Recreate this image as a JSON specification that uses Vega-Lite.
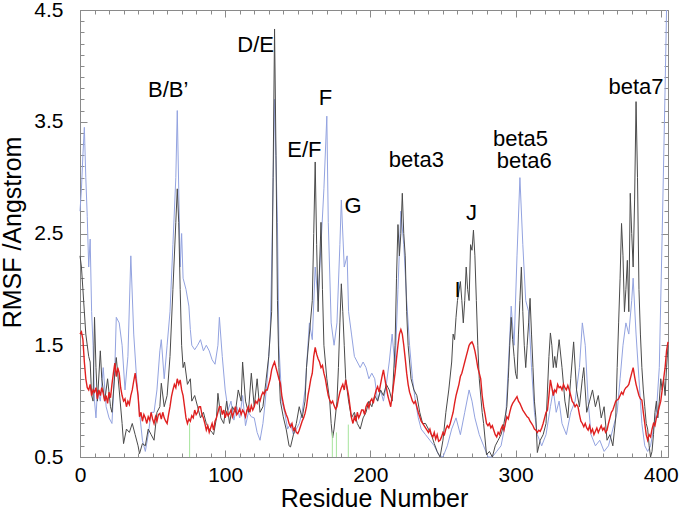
{
"$schema":"https://vega.github.io/schema/vega-lite/v6.json",
"width":588,"height":447,
"autosize":{"type":"none"},
"padding":{"left":80,"top":10,"right":12,"bottom":56},
"background":"white",
"config":{"view":{"stroke":"#8a8a8a","strokeWidth":1},"font":"Liberation Sans",
"axis":{"grid":false,"domain":false,"tickColor":"#8a8a8a","tickWidth":1,"labelFont":"Liberation Sans","labelFontSize":21,"labelColor":"#000","titleFont":"Liberation Sans","titleFontSize":25,"titleFontWeight":"normal","titleColor":"#000","labelFlush":false,"labelOverlap":false,"labelBound":false}},
"datasets":{
"blue":[{"r":0,"v":2.7},{"r":1,"v":2.9},{"r":2,"v":3.2},{"r":3,"v":3.45},{"r":4,"v":3.0},{"r":5,"v":2.65},{"r":6,"v":2.2},{"r":7,"v":2.45},{"r":8,"v":1.8},{"r":9,"v":1.5},{"r":10,"v":1.0},{"r":11,"v":0.85},{"r":12,"v":1.1},{"r":14,"v":1.0},{"r":16,"v":1.3},{"r":18,"v":0.95},{"r":20,"v":0.85},{"r":22,"v":0.8},{"r":24,"v":1.3},{"r":25,"v":1.75},{"r":27,"v":1.7},{"r":29,"v":1.5},{"r":31,"v":1.1},{"r":33,"v":1.4},{"r":35,"v":2.3},{"r":37,"v":1.6},{"r":39,"v":1.2},{"r":41,"v":0.9},{"r":43,"v":0.65},{"r":45,"v":0.55},{"r":47,"v":0.7},{"r":49,"v":0.9},{"r":51,"v":0.9},{"r":53,"v":1.1},{"r":55,"v":1.45},{"r":56,"v":1.55},{"r":58,"v":1.2},{"r":60,"v":1.5},{"r":62,"v":1.8},{"r":64,"v":2.4},{"r":66,"v":3.0},{"r":67,"v":3.6},{"r":68,"v":2.9},{"r":69,"v":2.2},{"r":70,"v":2.5},{"r":71,"v":2.1},{"r":73,"v":2.0},{"r":75,"v":1.85},{"r":76,"v":1.64},{"r":77,"v":1.5},{"r":79,"v":1.46},{"r":81,"v":1.5},{"r":83,"v":1.55},{"r":85,"v":1.45},{"r":87,"v":1.5},{"r":89,"v":1.45},{"r":91,"v":1.37},{"r":93,"v":1.33},{"r":95,"v":1.5},{"r":96,"v":1.75},{"r":98,"v":1.4},{"r":100,"v":1.1},{"r":102,"v":0.92},{"r":104,"v":1.0},{"r":106,"v":0.83},{"r":108,"v":0.95},{"r":110,"v":0.85},{"r":112,"v":1.05},{"r":114,"v":0.78},{"r":116,"v":0.9},{"r":118,"v":0.86},{"r":120,"v":0.85},{"r":122,"v":0.72},{"r":124,"v":0.65},{"r":126,"v":0.8},{"r":127,"v":0.92},{"r":129,"v":1.2},{"r":131,"v":1.6},{"r":132,"v":2.2},{"r":134,"v":3.7},{"r":136,"v":2.6},{"r":137,"v":1.5},{"r":139,"v":1.0},{"r":141,"v":0.9},{"r":143,"v":0.75},{"r":145,"v":0.8},{"r":147,"v":0.7},{"r":149,"v":0.75},{"r":151,"v":0.8},{"r":153,"v":0.9},{"r":155,"v":1.1},{"r":157,"v":1.5},{"r":158,"v":1.7},{"r":160,"v":1.55},{"r":162,"v":2.2},{"r":164,"v":1.9},{"r":166,"v":2.4},{"r":168,"v":2.9},{"r":170,"v":3.55},{"r":171,"v":2.6},{"r":173,"v":1.7},{"r":175,"v":1.5},{"r":177,"v":1.7},{"r":179,"v":2.4},{"r":180,"v":2.8},{"r":182,"v":2.2},{"r":184,"v":2.3},{"r":185,"v":1.8},{"r":187,"v":1.6},{"r":189,"v":1.4},{"r":191,"v":1.35},{"r":193,"v":1.3},{"r":195,"v":1.35},{"r":197,"v":1.3},{"r":199,"v":1.2},{"r":201,"v":1.25},{"r":203,"v":1.2},{"r":205,"v":1.0},{"r":207,"v":1.1},{"r":209,"v":1.0},{"r":211,"v":1.15},{"r":213,"v":1.35},{"r":215,"v":1.6},{"r":217,"v":1.3},{"r":219,"v":2.0},{"r":221,"v":2.7},{"r":223,"v":2.4},{"r":225,"v":1.9},{"r":227,"v":1.5},{"r":229,"v":1.2},{"r":231,"v":1.0},{"r":233,"v":0.85},{"r":235,"v":0.75},{"r":238,"v":0.7},{"r":241,"v":0.65},{"r":244,"v":0.6},{"r":247,"v":0.52},{"r":250,"v":0.5},{"r":253,"v":0.6},{"r":256,"v":0.75},{"r":259,"v":0.85},{"r":262,"v":0.7},{"r":265,"v":0.9},{"r":268,"v":1.1},{"r":270,"v":1.0},{"r":272,"v":0.85},{"r":275,"v":0.7},{"r":278,"v":0.6},{"r":281,"v":0.5},{"r":284,"v":0.5},{"r":287,"v":0.55},{"r":290,"v":0.6},{"r":293,"v":0.8},{"r":295,"v":1.3},{"r":297,"v":1.85},{"r":299,"v":1.5},{"r":301,"v":2.3},{"r":303,"v":3.0},{"r":305,"v":2.4},{"r":307,"v":1.9},{"r":309,"v":1.8},{"r":311,"v":1.3},{"r":313,"v":0.9},{"r":315,"v":0.7},{"r":318,"v":0.6},{"r":321,"v":0.7},{"r":324,"v":0.95},{"r":326,"v":1.1},{"r":328,"v":0.9},{"r":330,"v":1.0},{"r":332,"v":0.8},{"r":335,"v":0.7},{"r":338,"v":0.9},{"r":341,"v":1.0},{"r":344,"v":1.3},{"r":346,"v":1.7},{"r":348,"v":1.5},{"r":350,"v":1.0},{"r":352,"v":0.7},{"r":355,"v":0.6},{"r":358,"v":0.65},{"r":361,"v":0.55},{"r":364,"v":0.6},{"r":367,"v":0.75},{"r":370,"v":0.9},{"r":372,"v":1.2},{"r":374,"v":1.5},{"r":376,"v":1.7},{"r":378,"v":1.6},{"r":380,"v":1.9},{"r":381,"v":2.1},{"r":383,"v":1.6},{"r":385,"v":1.2},{"r":387,"v":0.8},{"r":389,"v":0.6},{"r":391,"v":0.55},{"r":393,"v":0.6},{"r":395,"v":0.75},{"r":397,"v":0.9},{"r":399,"v":1.3},{"r":401,"v":2.5},{"r":403,"v":3.8},{"r":404,"v":4.5}],
"black":[{"r":0,"v":2.3},{"r":1,"v":2.2},{"r":2,"v":2.0},{"r":4,"v":1.6},{"r":6,"v":1.4},{"r":7,"v":1.35},{"r":8,"v":1.05},{"r":9,"v":1.0},{"r":10,"v":1.75},{"r":11,"v":1.3},{"r":12,"v":1.0},{"r":14,"v":1.45},{"r":15,"v":1.2},{"r":17,"v":1.0},{"r":19,"v":1.2},{"r":21,"v":0.95},{"r":22,"v":0.9},{"r":24,"v":1.25},{"r":25,"v":1.39},{"r":27,"v":1.1},{"r":29,"v":0.8},{"r":30,"v":0.62},{"r":32,"v":0.75},{"r":34,"v":0.72},{"r":36,"v":0.8},{"r":38,"v":0.7},{"r":40,"v":0.6},{"r":41,"v":0.53},{"r":43,"v":0.62},{"r":45,"v":0.6},{"r":47,"v":0.75},{"r":49,"v":0.7},{"r":51,"v":0.65},{"r":53,"v":0.9},{"r":55,"v":0.95},{"r":56,"v":1.16},{"r":58,"v":0.95},{"r":60,"v":1.05},{"r":62,"v":1.4},{"r":64,"v":2.0},{"r":66,"v":2.6},{"r":67,"v":2.9},{"r":68,"v":2.6},{"r":69,"v":2.0},{"r":70,"v":1.5},{"r":71,"v":1.3},{"r":72,"v":1.35},{"r":74,"v":1.15},{"r":76,"v":1.2},{"r":77,"v":1.0},{"r":79,"v":1.05},{"r":81,"v":0.95},{"r":83,"v":0.85},{"r":85,"v":0.9},{"r":87,"v":0.8},{"r":89,"v":0.75},{"r":91,"v":0.72},{"r":92,"v":0.7},{"r":94,"v":0.85},{"r":95,"v":1.07},{"r":97,"v":0.85},{"r":99,"v":0.8},{"r":101,"v":1.0},{"r":103,"v":0.8},{"r":105,"v":0.95},{"r":107,"v":0.9},{"r":109,"v":1.1},{"r":111,"v":1.0},{"r":112,"v":1.35},{"r":114,"v":1.0},{"r":116,"v":0.9},{"r":118,"v":1.25},{"r":120,"v":0.95},{"r":122,"v":1.2},{"r":124,"v":0.9},{"r":126,"v":0.95},{"r":128,"v":1.17},{"r":130,"v":1.4},{"r":132,"v":1.8},{"r":133,"v":3.0},{"r":134,"v":4.33},{"r":135,"v":3.2},{"r":136,"v":1.9},{"r":137,"v":1.3},{"r":138,"v":1.0},{"r":140,"v":0.86},{"r":142,"v":0.75},{"r":144,"v":0.6},{"r":145,"v":0.59},{"r":147,"v":0.7},{"r":149,"v":0.8},{"r":151,"v":0.95},{"r":153,"v":0.85},{"r":155,"v":1.0},{"r":156,"v":1.3},{"r":158,"v":1.6},{"r":160,"v":1.9},{"r":161,"v":2.5},{"r":162,"v":3.14},{"r":163,"v":2.4},{"r":164,"v":1.8},{"r":165,"v":2.2},{"r":166,"v":2.6},{"r":167,"v":2.0},{"r":168,"v":1.5},{"r":170,"v":1.2},{"r":172,"v":1.0},{"r":173,"v":0.8},{"r":174,"v":0.67},{"r":175,"v":0.75},{"r":177,"v":1.0},{"r":178,"v":1.3},{"r":179,"v":1.7},{"r":180,"v":2.05},{"r":181,"v":1.8},{"r":182,"v":1.5},{"r":183,"v":1.2},{"r":185,"v":1.0},{"r":187,"v":0.85},{"r":189,"v":0.9},{"r":191,"v":0.8},{"r":193,"v":0.75},{"r":195,"v":0.85},{"r":197,"v":0.9},{"r":199,"v":1.0},{"r":201,"v":0.95},{"r":203,"v":1.05},{"r":205,"v":1.0},{"r":207,"v":1.1},{"r":209,"v":1.05},{"r":211,"v":1.15},{"r":213,"v":1.1},{"r":215,"v":1.0},{"r":217,"v":1.5},{"r":218,"v":2.1},{"r":219,"v":2.58},{"r":220,"v":2.3},{"r":221,"v":2.5},{"r":222,"v":2.86},{"r":223,"v":2.5},{"r":224,"v":2.3},{"r":225,"v":1.8},{"r":226,"v":1.5},{"r":228,"v":1.2},{"r":230,"v":1.1},{"r":232,"v":1.05},{"r":234,"v":0.9},{"r":236,"v":0.8},{"r":238,"v":0.8},{"r":240,"v":0.75},{"r":242,"v":0.7},{"r":244,"v":0.62},{"r":246,"v":0.55},{"r":248,"v":0.5},{"r":250,"v":0.65},{"r":252,"v":0.9},{"r":254,"v":1.1},{"r":256,"v":1.35},{"r":257,"v":1.6},{"r":258,"v":1.55},{"r":259,"v":1.75},{"r":260,"v":1.9},{"r":262,"v":2.07},{"r":263,"v":1.9},{"r":264,"v":1.7},{"r":265,"v":1.9},{"r":266,"v":2.2},{"r":267,"v":2.0},{"r":268,"v":1.9},{"r":269,"v":2.4},{"r":270,"v":2.35},{"r":271,"v":2.53},{"r":272,"v":2.3},{"r":273,"v":1.9},{"r":274,"v":1.5},{"r":275,"v":1.2},{"r":277,"v":0.9},{"r":278,"v":0.8},{"r":280,"v":0.52},{"r":282,"v":0.55},{"r":284,"v":0.5},{"r":286,"v":0.6},{"r":288,"v":0.65},{"r":290,"v":0.7},{"r":292,"v":0.8},{"r":294,"v":0.95},{"r":295,"v":1.2},{"r":296,"v":1.5},{"r":297,"v":1.75},{"r":298,"v":1.55},{"r":299,"v":1.4},{"r":300,"v":1.25},{"r":301,"v":1.2},{"r":302,"v":1.6},{"r":303,"v":1.9},{"r":304,"v":2.2},{"r":305,"v":1.8},{"r":306,"v":1.5},{"r":307,"v":1.3},{"r":308,"v":1.5},{"r":309,"v":1.7},{"r":310,"v":1.92},{"r":311,"v":1.6},{"r":312,"v":1.3},{"r":313,"v":1.0},{"r":314,"v":0.85},{"r":315,"v":0.54},{"r":317,"v":0.65},{"r":319,"v":0.7},{"r":321,"v":0.8},{"r":322,"v":1.1},{"r":323,"v":1.4},{"r":324,"v":1.61},{"r":325,"v":1.5},{"r":326,"v":1.3},{"r":327,"v":1.4},{"r":328,"v":1.3},{"r":330,"v":1.55},{"r":332,"v":1.3},{"r":334,"v":1.0},{"r":336,"v":0.85},{"r":338,"v":1.2},{"r":340,"v":1.53},{"r":342,"v":1.1},{"r":344,"v":0.95},{"r":346,"v":1.2},{"r":347,"v":1.3},{"r":349,"v":0.9},{"r":351,"v":1.0},{"r":353,"v":1.1},{"r":355,"v":0.95},{"r":357,"v":1.05},{"r":359,"v":0.85},{"r":361,"v":0.95},{"r":363,"v":0.65},{"r":365,"v":0.7},{"r":367,"v":0.6},{"r":369,"v":0.85},{"r":370,"v":1.3},{"r":371,"v":1.7},{"r":372,"v":2.1},{"r":373,"v":2.59},{"r":374,"v":2.3},{"r":375,"v":1.8},{"r":376,"v":2.0},{"r":377,"v":2.26},{"r":378,"v":1.8},{"r":379,"v":2.86},{"r":380,"v":2.5},{"r":381,"v":2.2},{"r":382,"v":2.8},{"r":383,"v":3.68},{"r":384,"v":3.0},{"r":385,"v":2.0},{"r":386,"v":1.6},{"r":387,"v":1.3},{"r":388,"v":1.1},{"r":389,"v":0.95},{"r":390,"v":0.8},{"r":391,"v":0.75},{"r":392,"v":0.6},{"r":393,"v":0.5},{"r":394,"v":0.55},{"r":395,"v":0.7},{"r":396,"v":0.9},{"r":397,"v":1.0},{"r":398,"v":0.85},{"r":399,"v":1.0},{"r":400,"v":1.2},{"r":401,"v":1.1},{"r":402,"v":1.2},{"r":403,"v":1.05},{"r":404,"v":1.3},{"r":405,"v":1.5}],
"red":[{"r":0,"v":1.6},{"r":1,"v":1.62},{"r":2,"v":1.55},{"r":3,"v":1.35},{"r":4,"v":1.2},{"r":5,"v":1.12},{"r":6,"v":1.1},{"r":7,"v":1.15},{"r":8,"v":1.05},{"r":9,"v":1.1},{"r":10,"v":1.08},{"r":11,"v":1.12},{"r":12,"v":1.02},{"r":13,"v":1.1},{"r":14,"v":1.05},{"r":15,"v":1.12},{"r":16,"v":1.07},{"r":17,"v":1.0},{"r":18,"v":1.05},{"r":19,"v":0.98},{"r":20,"v":1.08},{"r":21,"v":1.03},{"r":22,"v":1.15},{"r":23,"v":1.25},{"r":24,"v":1.34},{"r":25,"v":1.22},{"r":26,"v":1.3},{"r":27,"v":1.25},{"r":28,"v":1.12},{"r":29,"v":1.05},{"r":30,"v":1.0},{"r":31,"v":1.02},{"r":32,"v":0.95},{"r":33,"v":1.0},{"r":34,"v":0.97},{"r":35,"v":1.05},{"r":36,"v":1.1},{"r":37,"v":1.18},{"r":38,"v":1.25},{"r":39,"v":1.15},{"r":40,"v":1.05},{"r":41,"v":0.86},{"r":42,"v":0.9},{"r":43,"v":0.82},{"r":44,"v":0.88},{"r":45,"v":0.85},{"r":46,"v":0.8},{"r":47,"v":0.86},{"r":48,"v":0.83},{"r":49,"v":0.9},{"r":50,"v":0.84},{"r":51,"v":0.8},{"r":52,"v":0.86},{"r":53,"v":0.82},{"r":54,"v":0.88},{"r":55,"v":0.89},{"r":56,"v":0.84},{"r":57,"v":0.9},{"r":58,"v":0.85},{"r":59,"v":0.82},{"r":60,"v":0.8},{"r":61,"v":0.88},{"r":62,"v":0.95},{"r":63,"v":1.04},{"r":64,"v":1.1},{"r":65,"v":1.15},{"r":66,"v":1.12},{"r":67,"v":1.2},{"r":68,"v":1.15},{"r":69,"v":1.19},{"r":70,"v":1.1},{"r":71,"v":1.05},{"r":72,"v":0.95},{"r":73,"v":0.85},{"r":74,"v":0.8},{"r":75,"v":0.84},{"r":76,"v":0.82},{"r":77,"v":0.87},{"r":78,"v":0.85},{"r":79,"v":0.92},{"r":80,"v":0.88},{"r":81,"v":0.9},{"r":82,"v":0.95},{"r":83,"v":0.95},{"r":84,"v":0.88},{"r":85,"v":0.85},{"r":86,"v":0.8},{"r":87,"v":0.74},{"r":88,"v":0.78},{"r":89,"v":0.72},{"r":90,"v":0.76},{"r":91,"v":0.8},{"r":92,"v":0.74},{"r":93,"v":0.82},{"r":94,"v":0.85},{"r":95,"v":0.9},{"r":96,"v":0.95},{"r":97,"v":0.95},{"r":98,"v":0.88},{"r":99,"v":0.92},{"r":100,"v":0.85},{"r":101,"v":0.9},{"r":102,"v":0.87},{"r":103,"v":0.89},{"r":104,"v":0.92},{"r":105,"v":0.86},{"r":106,"v":0.9},{"r":107,"v":0.95},{"r":108,"v":0.88},{"r":109,"v":0.9},{"r":110,"v":0.93},{"r":111,"v":0.88},{"r":112,"v":0.92},{"r":113,"v":0.9},{"r":114,"v":0.86},{"r":115,"v":0.92},{"r":116,"v":0.95},{"r":117,"v":0.9},{"r":118,"v":0.96},{"r":119,"v":0.92},{"r":120,"v":0.95},{"r":121,"v":1.0},{"r":122,"v":0.98},{"r":123,"v":1.02},{"r":124,"v":1.0},{"r":125,"v":1.05},{"r":126,"v":1.08},{"r":127,"v":1.06},{"r":128,"v":1.1},{"r":129,"v":1.1},{"r":130,"v":1.15},{"r":131,"v":1.2},{"r":132,"v":1.28},{"r":133,"v":1.32},{"r":134,"v":1.35},{"r":135,"v":1.3},{"r":136,"v":1.25},{"r":137,"v":1.2},{"r":138,"v":1.16},{"r":139,"v":1.05},{"r":140,"v":0.98},{"r":141,"v":0.92},{"r":142,"v":0.88},{"r":143,"v":0.85},{"r":144,"v":0.8},{"r":145,"v":0.77},{"r":146,"v":0.8},{"r":147,"v":0.74},{"r":148,"v":0.76},{"r":149,"v":0.72},{"r":150,"v":0.71},{"r":151,"v":0.74},{"r":152,"v":0.78},{"r":153,"v":0.82},{"r":154,"v":0.85},{"r":155,"v":0.89},{"r":156,"v":0.95},{"r":157,"v":1.05},{"r":158,"v":1.12},{"r":159,"v":1.2},{"r":160,"v":1.25},{"r":161,"v":1.4},{"r":162,"v":1.48},{"r":163,"v":1.42},{"r":164,"v":1.38},{"r":165,"v":1.35},{"r":166,"v":1.3},{"r":167,"v":1.32},{"r":168,"v":1.25},{"r":169,"v":1.2},{"r":170,"v":1.12},{"r":171,"v":1.05},{"r":172,"v":1.01},{"r":173,"v":0.98},{"r":174,"v":1.0},{"r":175,"v":0.96},{"r":176,"v":0.93},{"r":177,"v":0.95},{"r":178,"v":1.02},{"r":179,"v":1.08},{"r":180,"v":1.12},{"r":181,"v":1.15},{"r":182,"v":1.1},{"r":183,"v":1.19},{"r":184,"v":1.12},{"r":185,"v":1.05},{"r":186,"v":0.95},{"r":187,"v":0.85},{"r":188,"v":0.8},{"r":189,"v":0.86},{"r":190,"v":0.82},{"r":191,"v":0.9},{"r":192,"v":0.85},{"r":193,"v":0.88},{"r":194,"v":0.92},{"r":195,"v":0.92},{"r":196,"v":0.88},{"r":197,"v":0.95},{"r":198,"v":0.98},{"r":199,"v":0.94},{"r":200,"v":1.0},{"r":201,"v":1.02},{"r":202,"v":0.98},{"r":203,"v":1.05},{"r":204,"v":1.1},{"r":205,"v":1.13},{"r":206,"v":1.08},{"r":207,"v":1.15},{"r":208,"v":1.22},{"r":209,"v":1.28},{"r":210,"v":1.2},{"r":211,"v":1.12},{"r":212,"v":1.05},{"r":213,"v":1.0},{"r":214,"v":0.95},{"r":215,"v":1.05},{"r":216,"v":1.15},{"r":217,"v":1.25},{"r":218,"v":1.38},{"r":219,"v":1.5},{"r":220,"v":1.6},{"r":221,"v":1.64},{"r":222,"v":1.6},{"r":223,"v":1.5},{"r":224,"v":1.38},{"r":225,"v":1.25},{"r":226,"v":1.15},{"r":227,"v":1.08},{"r":228,"v":1.04},{"r":229,"v":1.0},{"r":230,"v":0.98},{"r":231,"v":1.0},{"r":232,"v":0.95},{"r":233,"v":0.9},{"r":234,"v":0.86},{"r":235,"v":0.82},{"r":236,"v":0.8},{"r":237,"v":0.78},{"r":238,"v":0.76},{"r":239,"v":0.74},{"r":240,"v":0.72},{"r":241,"v":0.75},{"r":242,"v":0.7},{"r":243,"v":0.68},{"r":244,"v":0.72},{"r":245,"v":0.66},{"r":246,"v":0.7},{"r":247,"v":0.64},{"r":248,"v":0.65},{"r":249,"v":0.68},{"r":250,"v":0.72},{"r":251,"v":0.7},{"r":252,"v":0.75},{"r":253,"v":0.78},{"r":254,"v":0.76},{"r":255,"v":0.8},{"r":256,"v":0.85},{"r":257,"v":0.9},{"r":258,"v":0.98},{"r":259,"v":1.05},{"r":260,"v":1.1},{"r":261,"v":1.15},{"r":262,"v":1.22},{"r":263,"v":1.25},{"r":264,"v":1.3},{"r":265,"v":1.35},{"r":266,"v":1.4},{"r":267,"v":1.45},{"r":268,"v":1.5},{"r":269,"v":1.52},{"r":270,"v":1.53},{"r":271,"v":1.5},{"r":272,"v":1.45},{"r":273,"v":1.38},{"r":274,"v":1.3},{"r":275,"v":1.25},{"r":276,"v":1.2},{"r":277,"v":1.05},{"r":278,"v":0.95},{"r":279,"v":0.88},{"r":280,"v":0.8},{"r":281,"v":0.78},{"r":282,"v":0.8},{"r":283,"v":0.76},{"r":284,"v":0.78},{"r":285,"v":0.74},{"r":286,"v":0.7},{"r":287,"v":0.68},{"r":288,"v":0.72},{"r":289,"v":0.7},{"r":290,"v":0.75},{"r":291,"v":0.78},{"r":292,"v":0.74},{"r":293,"v":0.8},{"r":294,"v":0.86},{"r":295,"v":0.84},{"r":296,"v":0.9},{"r":297,"v":0.95},{"r":298,"v":0.98},{"r":299,"v":1.0},{"r":300,"v":1.02},{"r":301,"v":1.04},{"r":302,"v":1.0},{"r":303,"v":0.98},{"r":304,"v":0.95},{"r":305,"v":0.92},{"r":306,"v":0.9},{"r":307,"v":0.88},{"r":308,"v":0.86},{"r":309,"v":0.85},{"r":310,"v":0.82},{"r":311,"v":0.8},{"r":312,"v":0.78},{"r":313,"v":0.75},{"r":314,"v":0.74},{"r":315,"v":0.72},{"r":316,"v":0.74},{"r":317,"v":0.73},{"r":318,"v":0.76},{"r":319,"v":0.8},{"r":320,"v":0.85},{"r":321,"v":0.9},{"r":322,"v":0.92},{"r":323,"v":1.05},{"r":324,"v":1.19},{"r":325,"v":1.12},{"r":326,"v":1.05},{"r":327,"v":1.1},{"r":328,"v":1.08},{"r":329,"v":1.15},{"r":330,"v":1.12},{"r":331,"v":1.13},{"r":332,"v":1.1},{"r":333,"v":1.15},{"r":334,"v":1.12},{"r":335,"v":1.1},{"r":336,"v":1.14},{"r":337,"v":1.1},{"r":338,"v":1.05},{"r":339,"v":1.0},{"r":340,"v":0.98},{"r":341,"v":0.95},{"r":342,"v":0.97},{"r":343,"v":0.95},{"r":344,"v":0.88},{"r":345,"v":0.82},{"r":346,"v":0.8},{"r":347,"v":0.77},{"r":348,"v":0.8},{"r":349,"v":0.76},{"r":350,"v":0.74},{"r":351,"v":0.78},{"r":352,"v":0.72},{"r":353,"v":0.75},{"r":354,"v":0.7},{"r":355,"v":0.73},{"r":356,"v":0.76},{"r":357,"v":0.72},{"r":358,"v":0.75},{"r":359,"v":0.78},{"r":360,"v":0.74},{"r":361,"v":0.76},{"r":362,"v":0.72},{"r":363,"v":0.74},{"r":364,"v":0.8},{"r":365,"v":0.85},{"r":366,"v":0.9},{"r":367,"v":0.92},{"r":368,"v":0.96},{"r":369,"v":1.0},{"r":370,"v":1.01},{"r":371,"v":1.02},{"r":372,"v":1.05},{"r":373,"v":1.08},{"r":374,"v":1.06},{"r":375,"v":1.1},{"r":376,"v":1.12},{"r":377,"v":1.13},{"r":378,"v":1.15},{"r":379,"v":1.2},{"r":380,"v":1.25},{"r":381,"v":1.3},{"r":382,"v":1.22},{"r":383,"v":1.15},{"r":384,"v":1.1},{"r":385,"v":1.05},{"r":386,"v":1.02},{"r":387,"v":1.01},{"r":388,"v":0.9},{"r":389,"v":0.8},{"r":390,"v":0.7},{"r":391,"v":0.65},{"r":392,"v":0.7},{"r":393,"v":0.68},{"r":394,"v":0.75},{"r":395,"v":0.8},{"r":396,"v":0.78},{"r":397,"v":0.85},{"r":398,"v":0.89},{"r":399,"v":0.95},{"r":400,"v":1.0},{"r":401,"v":1.1},{"r":402,"v":1.2},{"r":403,"v":1.3},{"r":404,"v":1.45},{"r":405,"v":1.53}],
"green":[{"r":75.5,"v0":0.5,"v1":0.8},{"r":173.8,"v0":0.5,"v1":0.72},{"r":176.6,"v0":0.5,"v1":0.72},{"r":184.8,"v0":0.5,"v1":0.79}],
"labels":[{"t":"B/B’","r":60.7,"v":3.78},{"t":"D/E","r":121,"v":4.19},{"t":"F","r":169,"v":3.71},{"t":"E/F","r":154.5,"v":3.25},{"t":"G","r":188,"v":2.75},{"t":"beta3","r":231.7,"v":3.16},{"t":"I","r":260,"v":1.99},{"t":"J","r":269.7,"v":2.68},{"t":"beta5","r":303.4,"v":3.35},{"t":"beta6","r":306,"v":3.15},{"t":"beta7","r":383,"v":3.81}]
},
"resolve":{"axis":{"x":"independent","y":"independent"}},
"layer":[
{"data":{"name":"blue"},"mark":{"type":"line","color":"#93a3e0","strokeWidth":1},
"encoding":{
"x":{"field":"r","type":"quantitative","scale":{"domain":[0,405],"nice":false,"zero":false},
"axis":{"orient":"bottom","values":[0,10,20,30,40,50,60,70,80,90,100,110,120,130,140,150,160,170,180,190,200,210,220,230,240,250,260,270,280,290,300,310,320,330,340,350,360,370,380,390,400],"labelExpr":"datum.value % 100 === 0 ? datum.label : ''","tickSize":-4,"labelPadding":11,"title":"Residue Number","titleY":49,"titleBaseline":"alphabetic"}},
"y":{"field":"v","type":"quantitative","scale":{"domain":[0.5,4.5],"nice":false,"zero":false},
"axis":{"orient":"left","values":[0.5,0.6,0.7,0.8,0.9,1.0,1.1,1.2,1.3,1.4,1.5,1.6,1.7,1.8,1.9,2.0,2.1,2.2,2.3,2.4,2.5,2.6,2.7,2.8,2.9,3.0,3.1,3.2,3.3,3.4,3.5,3.6,3.7,3.8,3.9,4.0,4.1,4.2,4.3,4.4,4.5],"format":".1f","labelExpr":"round(datum.value*10) % 10 == 5 ? datum.label : ''","tickSize":-4,"labelPadding":21,"labelBaseline":"middle","title":"RMSF /Angstrom","titleX":-60,"titleY":222,"titleAngle":-90,"titleAlign":"center","titleBaseline":"alphabetic"}}}},
{"data":{"name":"black"},"mark":{"type":"line","color":"#4a4a4a","strokeWidth":1},
"encoding":{
"x":{"field":"r","type":"quantitative","axis":{"orient":"top","values":[0,10,20,30,40,50,60,70,80,90,100,110,120,130,140,150,160,170,180,190,200,210,220,230,240,250,260,270,280,290,300,310,320,330,340,350,360,370,380,390,400],"labels":false,"tickSize":-4,"title":null}},
"y":{"field":"v","type":"quantitative","axis":{"orient":"right","values":[0.5,0.6,0.7,0.8,0.9,1.0,1.1,1.2,1.3,1.4,1.5,1.6,1.7,1.8,1.9,2.0,2.1,2.2,2.3,2.4,2.5,2.6,2.7,2.8,2.9,3.0,3.1,3.2,3.3,3.4,3.5,3.6,3.7,3.8,3.9,4.0,4.1,4.2,4.3,4.4,4.5],"labels":false,"tickSize":-4,"title":null}}}},
{"data":{"name":"red"},"mark":{"type":"line","color":"#e02020","strokeWidth":1.4},
"encoding":{
"x":{"field":"r","type":"quantitative","axis":{"orient":"bottom","values":[0,100,200,300,400],"labels":false,"tickSize":-7,"title":null}},
"y":{"field":"v","type":"quantitative","axis":{"orient":"left","values":[0.5,1.5,2.5,3.5,4.5],"labels":false,"tickSize":-7,"title":null}}}},
{"data":{"name":"green"},"mark":{"type":"rule","color":"#a6e49c","strokeWidth":1},
"encoding":{
"x":{"field":"r","type":"quantitative","axis":{"orient":"top","values":[0,100,200,300,400],"labels":false,"tickSize":-7,"title":null}},
"y":{"field":"v0","type":"quantitative","axis":{"orient":"right","values":[0.5,1.5,2.5,3.5,4.5],"labels":false,"tickSize":-7,"title":null}},
"y2":{"field":"v1"}}},
{"data":{"name":"labels"},"mark":{"type":"text","font":"Liberation Sans","fontSize":22,"color":"#000","align":"center","baseline":"middle"},
"encoding":{
"x":{"field":"r","type":"quantitative","axis":null},
"y":{"field":"v","type":"quantitative","axis":null},
"text":{"field":"t"}}}
]
}
